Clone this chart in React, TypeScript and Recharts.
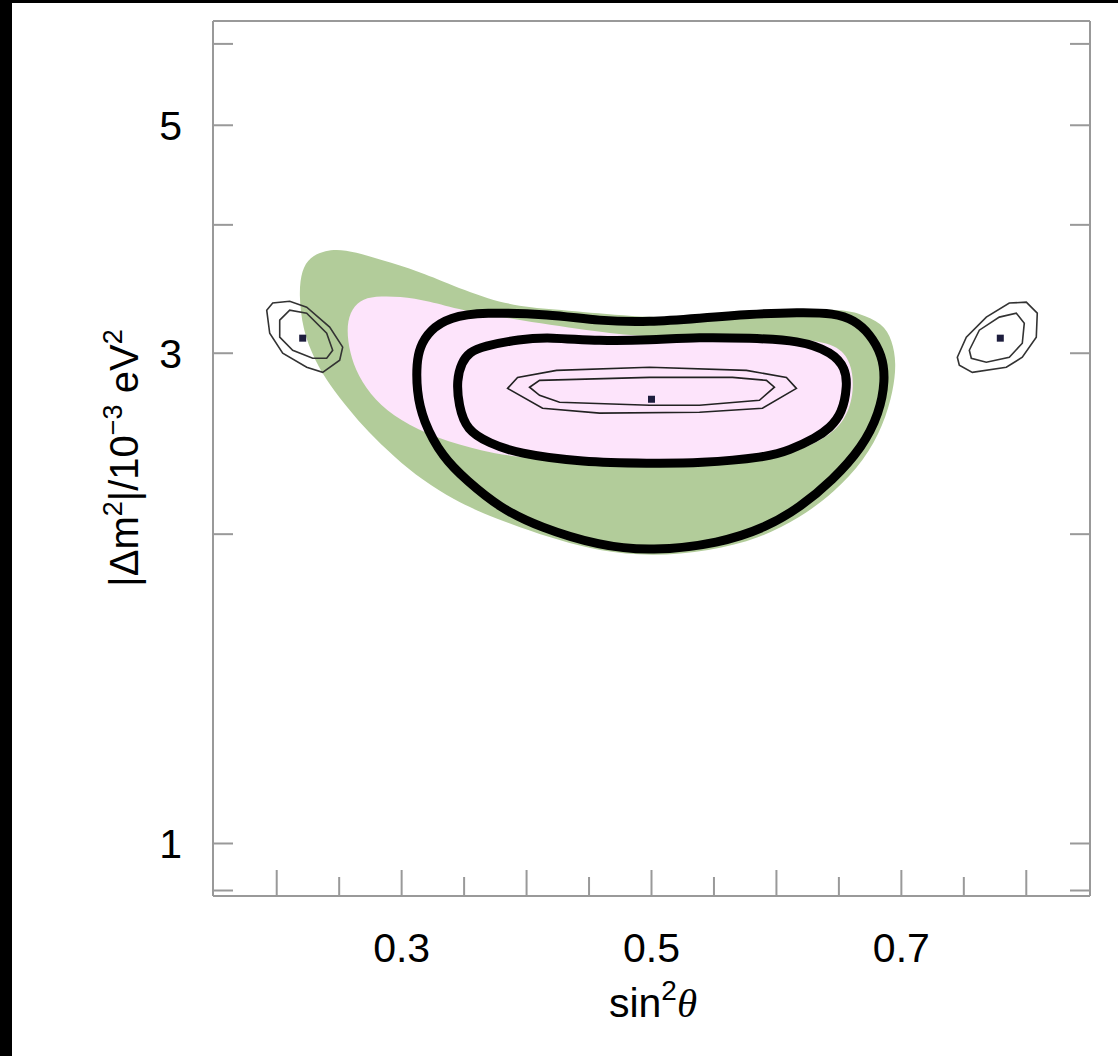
import { ScatterChart, Scatter, XAxis, YAxis } from "recharts";

type Pt = [number, number];

// sin^2(theta), |dm^2| in 1e-3 eV^2
const greenRegion: Pt[] = [
  [0.2176, 3.432], [0.22, 3.614], [0.2264, 3.72], [0.2384, 3.779], [0.2544, 3.788],
  [0.2768, 3.72], [0.3064, 3.63], [0.3304, 3.534], [0.3704, 3.379], [0.4024, 3.319],
  [0.4424, 3.296], [0.4984, 3.245], [0.5544, 3.26], [0.6184, 3.304], [0.6504, 3.311],
  [0.6664, 3.282], [0.6848, 3.209], [0.6928, 3.089], [0.696, 2.933], [0.6936, 2.761],
  [0.6856, 2.552], [0.6704, 2.36], [0.6464, 2.197], [0.6184, 2.072], [0.5864, 1.981],
  [0.5464, 1.925], [0.5, 1.903], [0.4584, 1.925], [0.4264, 1.972], [0.3944, 2.031],
  [0.3648, 2.096], [0.3424, 2.158], [0.3168, 2.256], [0.2944, 2.376], [0.272, 2.524],
  [0.2584, 2.64], [0.2424, 2.792], [0.2304, 2.953], [0.2208, 3.159],
];

const pinkRegion: Pt[] = [
  [0.256, 3.159], [0.2584, 3.289], [0.2664, 3.379], [0.2784, 3.409], [0.2984, 3.409],
  [0.3224, 3.371], [0.3464, 3.304], [0.3944, 3.231], [0.4584, 3.145], [0.4984, 3.11],
  [0.5384, 3.117], [0.6184, 3.103], [0.6488, 3.061], [0.66, 2.94], [0.6624, 2.761],
  [0.656, 2.581], [0.636, 2.457], [0.5944, 2.355], [0.5384, 2.328], [0.4584, 2.328],
  [0.3944, 2.376], [0.3648, 2.408], [0.328, 2.479], [0.2984, 2.581], [0.2784, 2.7],
  [0.2648, 2.855], [0.2584, 3.007],
];

const outerContour: Pt[] = [
  [0.312, 2.933], [0.3144, 3.041], [0.3224, 3.159], [0.3384, 3.253], [0.3648, 3.289],
  [0.4184, 3.274], [0.4584, 3.224], [0.4984, 3.216], [0.5384, 3.245], [0.5784, 3.274],
  [0.6184, 3.289], [0.6464, 3.282], [0.6624, 3.231], [0.6744, 3.137], [0.6848, 2.987],
  [0.6872, 2.823], [0.6824, 2.623], [0.6688, 2.43], [0.6448, 2.256], [0.6184, 2.122],
  [0.592, 2.031], [0.5544, 1.959], [0.5, 1.925], [0.4584, 1.948], [0.4104, 2.031],
  [0.3784, 2.122], [0.352, 2.256], [0.3328, 2.376], [0.3168, 2.581], [0.312, 2.761],
];

const innerContour: Pt[] = [
  [0.344, 2.823], [0.348, 2.94], [0.3544, 3.007], [0.3648, 3.047], [0.3944, 3.096],
  [0.4184, 3.11], [0.4584, 3.082], [0.4984, 3.089], [0.5384, 3.11], [0.5784, 3.103],
  [0.6184, 3.089], [0.6448, 3.007], [0.6552, 2.9], [0.6568, 2.792], [0.6528, 2.623],
  [0.6424, 2.535], [0.632, 2.484], [0.6104, 2.413], [0.592, 2.376], [0.5384, 2.344],
  [0.4984, 2.344], [0.4448, 2.349], [0.392, 2.397], [0.3704, 2.452], [0.352, 2.524],
  [0.3456, 2.67],
];

const centerOuter: Pt[] = [
  [0.3848, 2.773], [0.3928, 2.842], [0.424, 2.887], [0.4984, 2.907], [0.576, 2.887],
  [0.608, 2.842], [0.616, 2.773], [0.5888, 2.652], [0.5384, 2.628], [0.4584, 2.623],
  [0.4128, 2.652],
];

const centerInner: Pt[] = [
  [0.4024, 2.78], [0.4104, 2.823], [0.4984, 2.842], [0.5648, 2.842], [0.592, 2.823],
  [0.5984, 2.78], [0.5864, 2.7], [0.5384, 2.67], [0.4984, 2.67], [0.4264, 2.688],
  [0.4104, 2.73],
];

const leftOuter: Pt[] = [
  [0.192, 3.304], [0.1968, 3.357], [0.2104, 3.371], [0.224, 3.326], [0.2424, 3.181],
  [0.2528, 3.041], [0.2504, 2.953], [0.2368, 2.874], [0.224, 2.907], [0.2048, 3.0],
  [0.1944, 3.137],
];

const leftInner: Pt[] = [
  [0.2024, 3.231], [0.2104, 3.304], [0.224, 3.282], [0.24, 3.137], [0.2448, 3.02],
  [0.24, 2.966], [0.2288, 2.966], [0.2128, 3.02], [0.2024, 3.11],
];

const rightOuter: Pt[] = [
  [0.7448, 2.973], [0.752, 3.11], [0.768, 3.253], [0.7864, 3.357], [0.8, 3.364],
  [0.8088, 3.282], [0.808, 3.11], [0.7968, 2.973], [0.784, 2.907], [0.7568, 2.874],
  [0.7464, 2.92],
];

const rightInner: Pt[] = [
  [0.7544, 3.02], [0.7624, 3.159], [0.7784, 3.253], [0.792, 3.282], [0.7984, 3.209],
  [0.7968, 3.068], [0.7864, 2.973], [0.768, 2.94], [0.756, 2.966],
];

const bestFit: Pt[] = [[0.2208, 3.103], [0.5, 2.706], [0.7792, 3.103]];

const X_TICKS = [0.2, 0.25, 0.3, 0.35, 0.4, 0.45, 0.5, 0.55, 0.6, 0.65, 0.7, 0.75, 0.8];
const X_LABELS = [0.3, 0.5, 0.7];
const Y_TICKS = [0.9, 1, 2, 3, 4, 5, 6];
const Y_LABELS = [1, 3, 5];

const X_DOMAIN = [0.149, 0.851];
const Y_DOMAIN = [0.889, 6.316];

const FONT = '"Liberation Sans", Arial, sans-serif';
const GREY = "#999";
const GREEN = "#b2cc9a";
const PINK = "#fde4fb";

const pts = (p: Pt[]) => p.map(([x, y]) => ({ x, y }));
const noDot = () => <g />;
const square = (p: any) => (
  <rect x={p.cx - 3.5} y={p.cy - 3.5} width={7} height={7} fill="#1d1d3d" />
);

const XTick = (props: any) => {
  const { x, y, payload, top } = props;
  const v: number = payload.value;
  const major = Math.abs(v * 10 - Math.round(v * 10)) < 1e-6;
  const len = major ? 26 : 19;
  const dir = top ? 1 : -1;
  return (
    <g>
      <line x1={x} x2={x} y1={y} y2={y + dir * len} stroke={GREY} strokeWidth={2} />
      {!top && X_LABELS.includes(v) && (
        <text x={x} y={y + 66} textAnchor="middle" fontSize={41} fontFamily={FONT} fill="#000">
          {v.toFixed(1)}
        </text>
      )}
    </g>
  );
};

const YTick = (props: any) => {
  const { x, y, payload, right } = props;
  const v: number = payload.value;
  const dir = right ? -1 : 1;
  return (
    <g>
      <line x1={x} x2={x + dir * 20} y1={y} y2={y} stroke={GREY} strokeWidth={2} />
      {!right && Y_LABELS.includes(v) && (
        <text x={x - 31} y={y + 15} textAnchor="end" fontSize={41} fontFamily={FONT} fill="#000">
          {v}
        </text>
      )}
    </g>
  );
};

const YTitle = () => {
  const cx = 138;
  const cy = 458;
  return (
    <text
      x={cx}
      y={cy}
      transform={`rotate(-90 ${cx} ${cy})`}
      textAnchor="middle"
      fontSize={40}
      fontFamily={FONT}
      fill="#000"
    >
      |Δm<tspan dy={-16} fontSize={27}>2</tspan>
      <tspan dy={16}>|/10</tspan>
      <tspan dy={-16} fontSize={27}>−3</tspan>
      <tspan dy={16}> eV</tspan>
      <tspan dy={-16} fontSize={27}>2</tspan>
    </text>
  );
};

const XTitle = () => (
  <text x={653} y={1017} textAnchor="middle" fontSize={41} fontFamily={FONT} fill="#000">
    sin<tspan dy={-17} fontSize={28}>2</tspan>
    <tspan dy={17} fontStyle="italic" fontFamily='"Liberation Serif", serif'>θ</tspan>
  </text>
);

export default function App() {
  return (
    <div style={{ position: "absolute", left: 0, top: 0, width: 1118, height: 1056, background: "#000" }}>
      <div style={{ position: "absolute", left: 12, top: 3, right: 0, bottom: 0, background: "#fff" }} />
      <div style={{ position: "absolute", left: 0, top: 0 }}>
        <ScatterChart width={1118} height={1056} margin={{ top: 0, right: 0, bottom: 0, left: 0 }}>
          <XAxis
            xAxisId="b"
            dataKey="x"
            type="number"
            domain={X_DOMAIN}
            allowDataOverflow
            ticks={X_TICKS}
            interval={0}
            height={160}
            tickSize={0}
            tickMargin={0}
            tickLine={false}
            axisLine={{ stroke: GREY, strokeWidth: 2 }}
            tick={(p: any) => <XTick {...p} />}
            label={() => <XTitle />}
          />
          <XAxis
            xAxisId="t"
            orientation="top"
            type="number"
            domain={X_DOMAIN}
            allowDataOverflow
            ticks={X_TICKS}
            interval={0}
            height={21}
            tickSize={0}
            tickMargin={0}
            tickLine={false}
            axisLine={{ stroke: GREY, strokeWidth: 2 }}
            tick={(p: any) => <XTick {...p} top />}
          />
          <YAxis
            yAxisId="l"
            dataKey="y"
            type="number"
            scale="log"
            domain={Y_DOMAIN}
            allowDataOverflow
            ticks={Y_TICKS}
            interval={0}
            width={213}
            tickSize={0}
            tickMargin={0}
            tickLine={false}
            axisLine={{ stroke: GREY, strokeWidth: 2 }}
            tick={(p: any) => <YTick {...p} />}
            label={() => <YTitle />}
          />
          <YAxis
            yAxisId="r"
            orientation="right"
            type="number"
            scale="log"
            domain={Y_DOMAIN}
            allowDataOverflow
            ticks={Y_TICKS}
            interval={0}
            width={28}
            tickSize={0}
            tickMargin={0}
            tickLine={false}
            axisLine={{ stroke: GREY, strokeWidth: 2 }}
            tick={(p: any) => <YTick {...p} right />}
          />

          <Scatter xAxisId="b" yAxisId="l" data={pts(greenRegion)} shape={noDot} isAnimationActive={false}
            line={{ fill: GREEN, stroke: "none" }} lineJointType="basisClosed" />
          <Scatter xAxisId="b" yAxisId="l" data={pts(pinkRegion)} shape={noDot} isAnimationActive={false}
            line={{ fill: PINK, stroke: "none" }} lineJointType="basisClosed" />
          <Scatter xAxisId="b" yAxisId="l" data={pts(outerContour)} shape={noDot} isAnimationActive={false}
            line={{ fill: "none", stroke: "#000", strokeWidth: 9 }} lineJointType="basisClosed" />
          <Scatter xAxisId="b" yAxisId="l" data={pts(innerContour)} shape={noDot} isAnimationActive={false}
            line={{ fill: "none", stroke: "#000", strokeWidth: 9 }} lineJointType="basisClosed" />
          <Scatter xAxisId="b" yAxisId="l" data={pts(centerOuter)} shape={noDot} isAnimationActive={false}
            line={{ fill: "none", stroke: "#222", strokeWidth: 1.6 }} lineJointType="linearClosed" />
          <Scatter xAxisId="b" yAxisId="l" data={pts(centerInner)} shape={noDot} isAnimationActive={false}
            line={{ fill: "none", stroke: "#222", strokeWidth: 1.6 }} lineJointType="linearClosed" />
          <Scatter xAxisId="b" yAxisId="l" data={pts(leftOuter)} shape={noDot} isAnimationActive={false}
            line={{ fill: "none", stroke: "#333", strokeWidth: 1.6 }} lineJointType="linearClosed" />
          <Scatter xAxisId="b" yAxisId="l" data={pts(leftInner)} shape={noDot} isAnimationActive={false}
            line={{ fill: "none", stroke: "#333", strokeWidth: 1.6 }} lineJointType="linearClosed" />
          <Scatter xAxisId="b" yAxisId="l" data={pts(rightOuter)} shape={noDot} isAnimationActive={false}
            line={{ fill: "none", stroke: "#333", strokeWidth: 1.6 }} lineJointType="linearClosed" />
          <Scatter xAxisId="b" yAxisId="l" data={pts(rightInner)} shape={noDot} isAnimationActive={false}
            line={{ fill: "none", stroke: "#333", strokeWidth: 1.6 }} lineJointType="linearClosed" />
          <Scatter xAxisId="b" yAxisId="l" data={pts(bestFit)} shape={square} isAnimationActive={false} />
        </ScatterChart>
      </div>
    </div>
  );
}
